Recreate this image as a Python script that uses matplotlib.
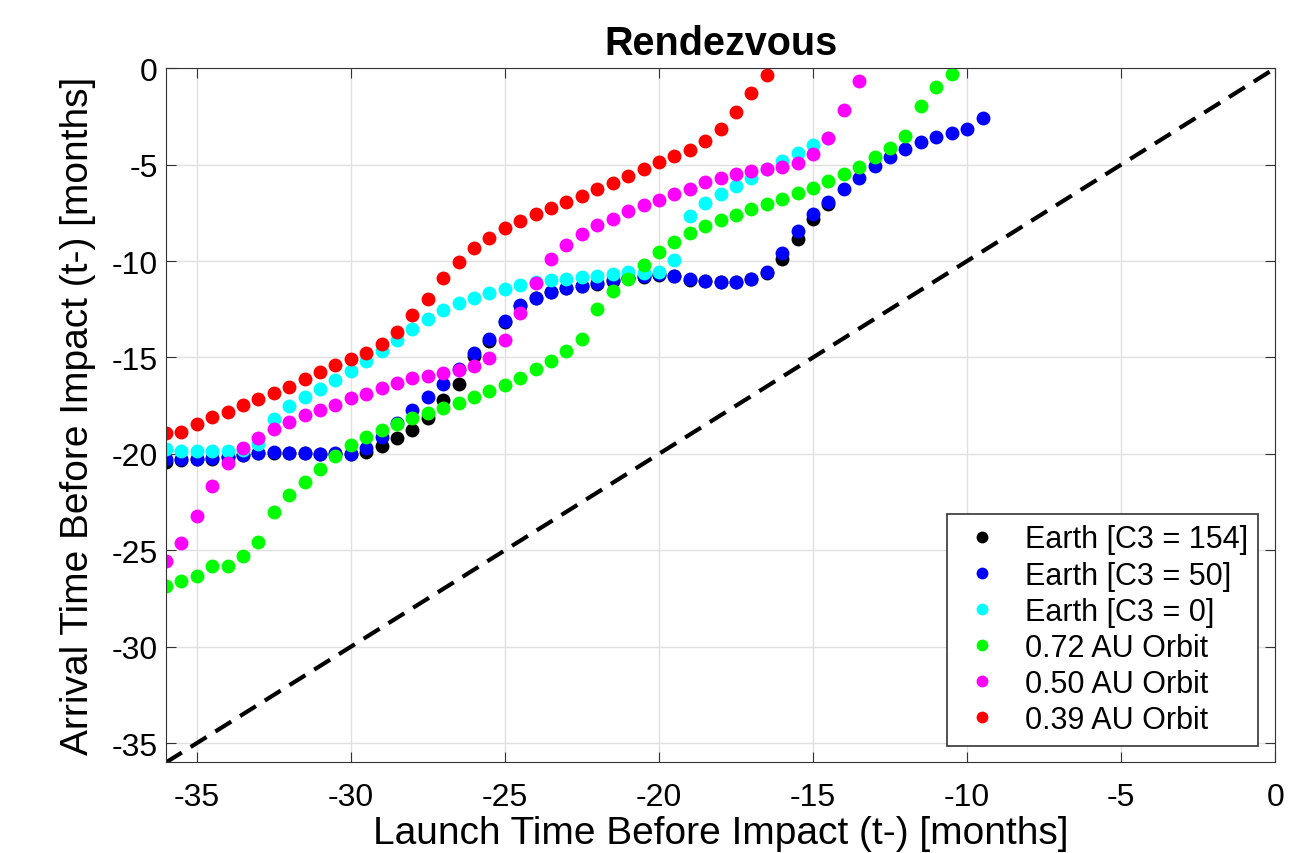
import matplotlib
matplotlib.use("Agg")
import matplotlib.pyplot as plt

plt.rcParams["font.family"] = ["Liberation Sans", "DejaVu Sans"]
plt.rcParams["axes.unicode_minus"] = False

# launch times (months before impact), 0.5 month steps
x_black = [-36, -35.5, -35, -34.5, -34, -33.5, -33, -32.5, -32, -31.5, -31, -30.5, -30, -29.5,
           -29, -28.5, -28, -27.5, -27, -26.5, -26, -25.5, -25, -24.5, -24, -23.5, -23, -22.5,
           -22, -21.5, -21, -20.5, -20, -19.5, -19, -18.5, -18, -17.5, -17, -16.5, -16, -15.5,
           -15, -14.5]
y_black = [-20.40, -20.32, -20.28, -20.24, -20.16, -20.08, -19.97, -19.94, -19.96, -19.96, -19.99,
           -19.98, -20.00, -19.90, -19.60, -19.20, -18.75, -18.13, -17.22, -16.40, -14.90, -14.15,
           -13.15, -12.35, -11.93, -11.63, -11.42, -11.30, -11.17, -11.02, -10.90, -10.82, -10.71,
           -10.80, -10.97, -11.06, -11.11, -11.09, -10.95, -10.62, -9.91, -8.84, -7.84, -7.06]

x_blue = [-36, -35.5, -35, -34.5, -34, -33.5, -33, -32.5, -32, -31.5, -31, -30.5, -30, -29.5,
          -29, -28.5, -28, -27.5, -27, -26.5, -26, -25.5, -25, -24.5, -24, -23.5, -23, -22.5,
          -22, -21.5, -21, -20.5, -20, -19.5, -19, -18.5, -18, -17.5, -17, -16.5, -16, -15.5,
          -15, -14.5, -14, -13.5, -13, -12.5, -12, -11.5, -11, -10.5, -10, -9.5]
y_blue = [-20.29, -20.29, -20.26, -20.22, -20.15, -20.08, -19.95, -19.92, -19.95, -19.95, -19.98,
          -19.95, -19.98, -19.69, -19.10, -18.40, -17.70, -17.05, -16.40, -15.58, -14.76, -14.06,
          -13.11, -12.30, -11.90, -11.61, -11.40, -11.28, -11.15, -11.00, -10.88, -10.80, -10.69,
          -10.78, -10.95, -11.04, -11.09, -11.07, -10.92, -10.57, -9.57, -8.44, -7.58, -6.94,
          -6.28, -5.67, -5.07, -4.58, -4.17, -3.82, -3.56, -3.34, -3.17, -2.56]

x_cyan = [-36, -35.5, -35, -34.5, -34, -33.5, -33, -32.5, -32, -31.5, -31, -30.5, -30, -29.5,
          -29, -28.5, -28, -27.5, -27, -26.5, -26, -25.5, -25, -24.5, -24, -23.5, -23, -22.5,
          -22, -21.5, -21, -20.5, -20, -19.5, -19, -18.5, -18, -17.5, -17, -16.5, -16, -15.5,
          -15, -14.5]
y_cyan = [-19.77, -19.86, -19.86, -19.86, -19.86, -19.80, -19.51, -18.18, -17.52, -17.06, -16.64,
          -16.17, -15.71, -15.19, -14.67, -14.10, -13.51, -12.99, -12.56, -12.16, -11.94, -11.64,
          -11.47, -11.26, -11.10, -10.99, -10.92, -10.84, -10.76, -10.67, -10.58, -10.60, -10.56,
          -9.95, -7.66, -6.98, -6.54, -6.11, -5.67, -5.25, -4.81, -4.38, -4.00, -3.64]

x_green = [-36, -35.5, -35, -34.5, -34, -33.5, -33, -32.5, -32, -31.5, -31, -30.5, -30, -29.5,
           -29, -28.5, -28, -27.5, -27, -26.5, -26, -25.5, -25, -24.5, -24, -23.5, -23, -22.5,
           -22, -21.5, -21, -20.5, -20, -19.5, -19, -18.5, -18, -17.5, -17, -16.5, -16, -15.5,
           -15, -14.5, -14, -13.5, -13, -12.5, -12, -11.5, -11, -10.5]
y_green = [-26.86, -26.60, -26.34, -25.83, -25.79, -25.27, -24.58, -23.02, -22.14, -21.47, -20.77,
           -20.12, -19.55, -19.10, -18.75, -18.43, -18.13, -17.90, -17.61, -17.35, -17.04, -16.75,
           -16.45, -16.05, -15.62, -15.19, -14.67, -14.05, -12.51, -11.56, -10.95, -10.22, -9.53,
           -9.01, -8.56, -8.20, -7.87, -7.60, -7.32, -7.06, -6.76, -6.49, -6.19, -5.85, -5.50,
           -5.10, -4.63, -4.12, -3.51, -1.96, -1.00, -0.31]

x_mag = [-36, -35.5, -35, -34.5, -34, -33.5, -33, -32.5, -32, -31.5, -31, -30.5, -30, -29.5,
         -29, -28.5, -28, -27.5, -27, -26.5, -26, -25.5, -25, -24.5, -24, -23.5, -23, -22.5,
         -22, -21.5, -21, -20.5, -20, -19.5, -19, -18.5, -18, -17.5, -17, -16.5, -16, -15.5,
         -15, -14.5, -14, -13.5]
y_mag = [-25.57, -24.62, -23.20, -21.68, -20.45, -19.70, -19.15, -18.72, -18.34, -18.00, -17.70,
         -17.44, -17.12, -16.87, -16.57, -16.31, -16.05, -15.97, -15.83, -15.66, -15.45, -15.01,
         -14.10, -12.71, -11.12, -9.88, -9.19, -8.61, -8.15, -7.80, -7.40, -7.11, -6.83, -6.54,
         -6.28, -5.90, -5.69, -5.48, -5.33, -5.24, -5.15, -4.93, -4.46, -3.60, -2.19, -0.66]

x_red = [-36, -35.5, -35, -34.5, -34, -33.5, -33, -32.5, -32, -31.5, -31, -30.5, -30, -29.5,
         -29, -28.5, -28, -27.5, -27, -26.5, -26, -25.5, -25, -24.5, -24, -23.5, -23, -22.5,
         -22, -21.5, -21, -20.5, -20, -19.5, -19, -18.5, -18, -17.5, -17, -16.5]
y_red = [-18.94, -18.87, -18.46, -18.11, -17.82, -17.49, -17.14, -16.85, -16.52, -16.14, -15.76,
         -15.41, -15.10, -14.76, -14.32, -13.67, -12.78, -11.99, -10.86, -10.05, -9.32, -8.79,
         -8.30, -7.90, -7.56, -7.25, -6.92, -6.63, -6.28, -5.93, -5.59, -5.21, -4.84, -4.55,
         -4.24, -3.77, -3.13, -2.27, -1.30, -0.33]

series = [
    (x_black, y_black, "k", "Earth [C3 = 154]"),
    (x_blue, y_blue, "#0000ff", "Earth [C3 = 50]"),
    (x_cyan, y_cyan, "#00ffff", "Earth [C3 = 0]"),
    (x_green, y_green, "#00ff00", "0.72 AU Orbit"),
    (x_mag, y_mag, "#ff00ff", "0.50 AU Orbit"),
    (x_red, y_red, "#ff0000", "0.39 AU Orbit"),
]

fig = plt.figure(figsize=(12.96, 8.54), dpi=100)
ax = fig.add_axes([0.128, 0.106, 0.856, 0.813])

for xs, ys, col, lab in series:
    ax.plot(xs, ys, "o", color=col, markersize=10, markeredgewidth=0, label=lab)

# t_launch = t_arrival reference line
ax.plot([-36, 0], [-36, 0], "--", color="k", linewidth=3, dashes=(4.5, 2.5))

ax.set_xlim(-36, 0)
ax.set_ylim(-36, 0)
ax.set_xticks(range(-35, 1, 5))
ax.set_yticks(range(-35, 1, 5))
ax.grid(True, color="#e0e0e0", linewidth=1)
ax.set_axisbelow(True)
ax.tick_params(direction="in", top=True, right=True, labelsize=23, length=7,
               color="#333333")
ax.tick_params(axis="x", pad=14)
ax.tick_params(axis="y", pad=6)
for sp in ax.spines.values():
    sp.set_color("#333333")

ax.set_title("Rendezvous", fontsize=28.5, fontweight="bold", pad=10)
ax.set_xlabel("Launch Time Before Impact (t-) [months]", fontsize=28, labelpad=2)
ax.set_ylabel("Arrival Time Before Impact (t-) [months]", fontsize=28, labelpad=11)

leg = ax.legend(loc="lower right", fontsize=22, markerscale=0.85, frameon=True,
                fancybox=False, edgecolor="#333333", framealpha=1,
                handlelength=1.6, handletextpad=0.6, labelspacing=0.2,
                borderaxespad=0.55, borderpad=0.35)
leg.get_frame().set_linewidth(1.2)

fig.savefig("out.png", dpi=100)
